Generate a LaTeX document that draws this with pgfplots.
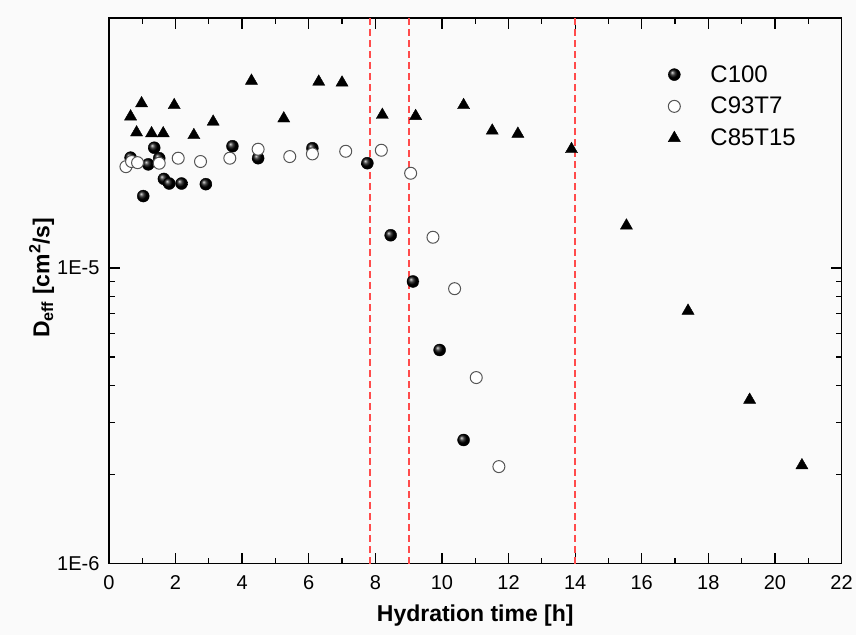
\documentclass[border=0pt]{standalone}
\usepackage{fontspec}
\setmainfont{Liberation Sans}
\usepackage{pgfplots}
\pgfplotsset{compat=1.18}
\definecolor{rl}{HTML}{FF4B4B}
\definecolor{cg}{HTML}{555555}
\begin{document}
\begin{tikzpicture}
\fill[black!2] (-109pt,-71pt) rectangle (747pt,564pt);
\begin{axis}[
 at={(0,0)}, anchor=south west,
 scale only axis, width=733pt, height=546pt,
 xmin=0, xmax=22, ymode=log, ymin=1e-6, ymax=7e-5,
 xtick={0,2,...,22}, minor x tick num=1,
 ytick={1e-6,1e-5}, yticklabels={1E-6,1E-5},
 tick align=inside,
 major tick length=11pt, minor tick length=6pt,
 axis line style={line width=1.5pt},
 every tick/.style={black, line width=1.3pt},
 /pgf/number format/assume math mode=true,
 tick label style={font=\fontsize{20}{22}\selectfont},
 xticklabel style={yshift=-8pt},
 yticklabel style={xshift=-6pt},
 xlabel={\textbf{Hydration time [h]}},
 xlabel style={font=\fontsize{23}{27}\selectfont, at={(axis description cs:0.5,-0.095)}, anchor=center},
 ylabel={\textbf{D\textsubscript{eff} [cm\textsuperscript{2}/s]}},
 ylabel style={font=\fontsize{23}{27}\selectfont, at={(axis description cs:-0.092,0.524)}, anchor=center},
 legend style={draw=none, fill=none, font=\fontsize{24}{28}\selectfont, at={(axis description cs:0.754,0.917)}, anchor=north west, row sep=9.5pt, inner sep=0pt},
 legend cell align=left,
 legend image code/.code={\path[draw=none] (0cm,0cm) -- (1.65cm,0cm); \draw[#1] plot coordinates {(0.45cm,0cm)};},
]
\addplot[only marks, mark=ball, mark size=6pt, ball color=black] coordinates {
(0.65,2.36e-5) (1.03,1.75e-5) (1.18,2.24e-5) (1.36,2.55e-5) (1.51,2.35e-5)
(1.65,2.00e-5) (1.81,1.93e-5) (2.18,1.93e-5) (2.91,1.92e-5) (3.71,2.58e-5)
(4.48,2.35e-5) (6.11,2.54e-5) (7.76,2.26e-5) (8.46,1.29e-5) (9.13,9.0e-6)
(9.93,5.28e-6) (10.65,2.62e-6)};
\addlegendentry{C100}
\addplot[only marks, mark=*, mark size=6pt, mark options={draw=cg, fill=white, line width=1pt}] coordinates {
(0.51,2.2e-5) (0.68,2.29e-5) (0.86,2.27e-5) (1.51,2.26e-5) (2.08,2.35e-5)
(2.75,2.29e-5) (3.63,2.35e-5) (4.48,2.52e-5) (5.43,2.38e-5) (6.11,2.43e-5)
(7.11,2.48e-5) (8.18,2.5e-5) (9.06,2.09e-5) (9.73,1.27e-5) (10.38,8.51e-6)
(11.03,4.26e-6) (11.71,2.13e-6)};
\addlegendentry{C93T7}
\addplot[only marks, mark=triangle*, mark size=7pt, mark options={fill=black, draw=black}] coordinates {
(0.65,3.25e-5) (0.83,2.87e-5) (0.98,3.6e-5) (1.28,2.85e-5) (1.63,2.85e-5)
(1.96,3.55e-5) (2.55,2.81e-5) (3.13,3.12e-5) (4.28,4.29e-5) (5.25,3.2e-5)
(6.3,4.26e-5) (7.0,4.23e-5) (8.21,3.29e-5) (9.21,3.26e-5) (10.65,3.55e-5)
(11.51,2.91e-5) (12.28,2.84e-5) (13.89,2.52e-5) (15.54,1.39e-5) (17.39,7.16e-6)
(19.24,3.58e-6) (20.81,2.15e-6)};
\addlegendentry{C85T15}
\addplot[rl, line width=2pt, dash pattern=on 7pt off 4pt, forget plot] coordinates {(7.85,1e-6) (7.85,7e-5)};
\addplot[rl, line width=2pt, dash pattern=on 7pt off 4pt, forget plot] coordinates {(9,1e-6) (9,7e-5)};
\addplot[rl, line width=2pt, dash pattern=on 7pt off 4pt, forget plot] coordinates {(14,1e-6) (14,7e-5)};
\end{axis}
\end{tikzpicture}
\end{document}
